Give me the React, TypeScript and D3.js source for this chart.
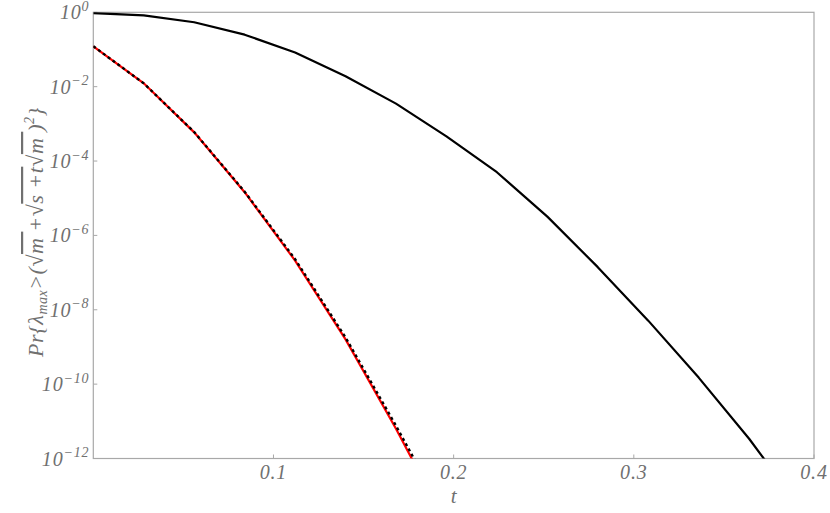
import React from "react";
import * as d3 from "d3";

const tValues = [0, 0.028, 0.056, 0.084, 0.112, 0.14, 0.168, 0.196, 0.224, 0.252, 0.28, 0.308, 0.336, 0.364, 0.392];
const boundSolid = [0.955, 0.83, 0.54, 0.25, 0.083, 0.019, 3.5e-3, 4.6e-4, 5.0e-5, 3.2e-6, 1.4e-7, 5.1e-9, 1.5e-10, 3.4e-12, 5e-14];
const redDashed = [0.122, 1.23e-2, 5.9e-4, 1.45e-5, 2.1e-7, 1.6e-9, 6.3e-12, 1.7e-14];
const blackDotted = [0.122, 1.23e-2, 6.0e-4, 1.5e-5, 2.3e-7, 1.8e-9, 7.6e-12, 2.5e-14];
const xTicks = [0.1, 0.2, 0.3, 0.4];
const yTickExps = [0, -2, -4, -6, -8, -10, -12];

const W = 830, H = 513;
const L = 93.3, R = 814, T = 12.3, B = 458.5;

export default function App() {
  const x = d3.scaleLinear().domain([0, 0.4]).range([L, R]);
  const y = d3.scaleLog().domain([1e-12, 1]).range([B, T]);
  const mk = (vals: number[]) =>
    d3.line<number>().x((_, i) => x(tValues[i])).y((v) => y(v))(vals) || "";
  const axisColor = "#a8a8a8";
  const textColor = "#707070";
  const font = "'Liberation Serif', 'DejaVu Serif', serif";
  return (
    <svg width={W} height={H} style={{ position: "absolute", left: 0, top: 0, background: "#fff" }}>
      <defs>
        <clipPath id="plot">
          <rect x={L} y={T} width={R - L} height={B - T} />
        </clipPath>
      </defs>
      <rect width={W} height={H} fill="#fff" />
      <rect x={L} y={T} width={R - L} height={B - T} fill="none" stroke={axisColor} strokeWidth={1.2} />
      {xTicks.map((t) => (
        <g key={t}>
          <line x1={x(t)} x2={x(t)} y1={B} y2={B - 4} stroke={axisColor} strokeWidth={1} />
          <text x={x(t)} y={B + 20} textAnchor="middle" fontFamily={font} fontStyle="italic" fontSize={20} letterSpacing={0.8} fill={textColor}>
            {t.toFixed(1)}
          </text>
        </g>
      ))}
      {yTickExps.map((e) => {
        const yy = y(Math.pow(10, e));
        return (
          <g key={e}>
            <line x1={L} x2={L + 4} y1={yy} y2={yy} stroke={axisColor} strokeWidth={1} />
            <text x={L - 4} y={yy + 7} textAnchor="end" fontFamily={font} fontStyle="italic" fontSize={20} letterSpacing={0.8} fill={textColor}>
              10<tspan dy={-8.5} fontSize={14}>{e === 0 ? "0" : "\u2212" + Math.abs(e)}</tspan>
            </text>
          </g>
        );
      })}
      <g clipPath="url(#plot)" fill="none">
        <path d={mk(boundSolid)} stroke="#000" strokeWidth={2.2} strokeLinejoin="round" />
        <path d={mk(redDashed)} stroke="#ff0000" strokeWidth={2.2} />
        <path d={mk(blackDotted)} stroke="#000" strokeWidth={2.4} strokeDasharray="3,3" />
      </g>
      <text x={(L + R) / 2} y={503} textAnchor="middle" fontFamily={font} fontStyle="italic" fontSize={21} fill={textColor}>
        t
      </text>
      <text transform="translate(43,232) rotate(-90)" textAnchor="middle" fontFamily={font} fontStyle="italic" fontSize={22} letterSpacing={0.5} fill={textColor}>
        Pr{"{"}λ<tspan fontSize={14} dy={4}>max</tspan>
        <tspan dy={-4}>{">(\u221A"}</tspan>
        <tspan style={{ textDecoration: "overline" }}>m </tspan>
        <tspan>{"+\u221A"}</tspan>
        <tspan style={{ textDecoration: "overline" }}>s +t</tspan>
        <tspan>{"\u221A"}</tspan>
        <tspan style={{ textDecoration: "overline" }}>m </tspan>
        <tspan>)</tspan>
        <tspan fontSize={14} dy={-9}>2</tspan>
        <tspan dy={9}>{"}"}</tspan>
      </text>
    </svg>
  );
}
